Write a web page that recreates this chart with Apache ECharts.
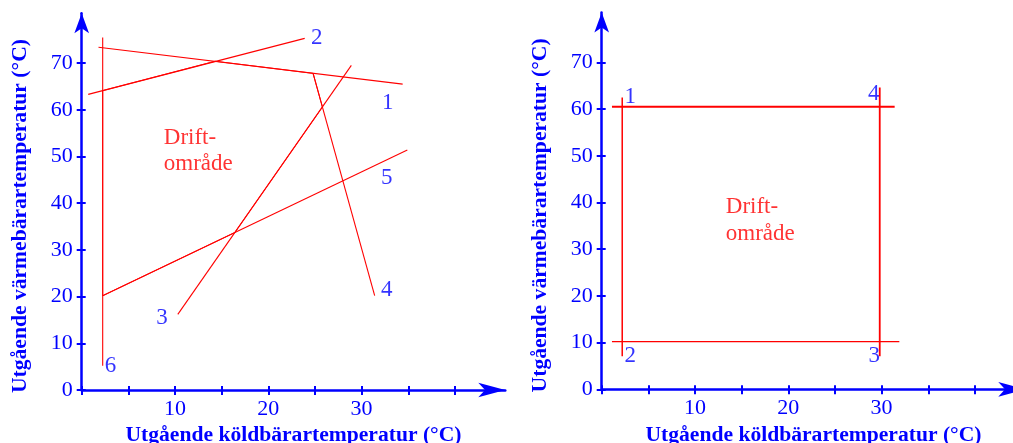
<!DOCTYPE html>
<html>
<head>
<meta charset="utf-8">
<script src="https://cdn.jsdelivr.net/npm/echarts@6/dist/echarts.min.js"></script>
<style>
  html, body { margin: 0; padding: 0; background: #fff; }
  #chart { width: 1013px; height: 443px; }
</style>
</head>
<body>
<div id="chart"></div>
<script>
// vänster diagram: gränslinjer 1-6 (x = köldbärare, y = värmebärare)
const line1 = [[1.8, 73.4], [34.4, 65.5]];
const line2 = [[0.7, 63.3], [23.9, 75.3]];
const line3 = [[10.3, 16.2], [28.9, 69.5]];
const line4 = [[24.8, 67.8], [31.4, 20.2]];
const line5 = [[2.25, 20.2], [34.9, 51.4]];
const line6 = [[2.25, 75.5], [2.25, 5.2]];
// driftområdets kant (dubbeldragen i originalet)
const region = [[2.25, 20.2], [16.4, 33.7], [25.8, 60.6], [24.8, 67.8], [14.3, 70.4], [2.25, 64.1], [2.25, 20.2]];
const leftMarkNames = ['1', '2', '3', '4', '5', '6'];
const leftMarkPos = [[32.8, 61.5], [25.2, 75.3], [8.6, 15.5], [32.7, 21.4], [32.7, 45.5], [3.1, 5.1]];

// höger diagram: rektangel
const rectLeft = [[2.2, 62.5], [2.2, 7.1]];
const rectTop = [[1.1, 60.5], [31.4, 60.5]];
const rectRight = [[29.8, 64.6], [29.8, 7.1]];
const rectBottom = [[1.1, 10.2], [31.9, 10.2]];
const rightMarkNames = ['1', '2', '3', '4'];
const rightMarkPos = [[3.07, 62.5], [3.07, 7.2], [29.2, 7.2], [29.15, 63.3]];

const driftText = 'Drift-\nområde';
const driftLeftPos = [8.8, 51.2];
const driftRightPos = [13.3, 36.1];

// axlar
const xTicks = [0, 5, 10, 15, 20, 25, 30, 35, 40];
const xLabels = [10, 20, 30];
const yTicks = [0, 10, 20, 30, 40, 50, 60, 70];
const xName = 'Utgående köldbärartemperatur (°C)';
const yName = 'Utgående värmebärartemperatur (°C)';

const BLUE = '#0000ff';
const RED = '#ff0000';
const FONT = 'Liberation Serif';

(function () {
  let myChart = echarts.init(document.getElementById('chart'));

  // pilspetsarna hamnar vid axelns slut
  const xMax = 45.4;
  const yMax = 80.7;

  function xAxisPair(grid) {
    return [
      {
        type: 'value', gridIndex: grid, position: 'bottom', min: 0, max: xMax,
        name: xName, nameLocation: 'middle', nameGap: 27,
        nameTextStyle: { color: BLUE, fontFamily: FONT, fontWeight: 'bold', fontSize: 21.6 },
        axisLine: { show: true, lineStyle: { color: BLUE, width: 2.5 }, symbol: ['none', 'arrow'], symbolSize: [11, 27] },
        axisTick: { show: true, inside: false, length: 5, lineStyle: { color: BLUE, width: 2 }, customValues: xTicks },
        axisLabel: { color: BLUE, fontFamily: FONT, fontSize: 22, margin: 8, customValues: xLabels },
        splitLine: { show: false }
      },
      {
        // inre halva av tickarna
        type: 'value', gridIndex: grid, position: 'bottom', min: 0, max: xMax,
        axisLine: { show: false },
        axisTick: { show: true, inside: true, length: 4, lineStyle: { color: BLUE, width: 2 }, customValues: xTicks },
        axisLabel: { show: false },
        splitLine: { show: false }
      }
    ];
  }

  function yAxisPair(grid) {
    return [
      {
        type: 'value', gridIndex: grid, position: 'left', min: 0, max: yMax,
        name: yName, nameLocation: 'middle', nameGap: 50, nameRotate: 90,
        nameTextStyle: {
          color: BLUE, fontFamily: FONT, fontWeight: 'bold', fontSize: 21.6,
          padding: [0, 29, 0, 0]
        },
        axisLine: { show: true, lineStyle: { color: BLUE, width: 2.5 }, symbol: ['none', 'arrow'], symbolSize: [11, 20] },
        axisTick: { show: true, inside: false, length: 5, lineStyle: { color: BLUE, width: 2 }, customValues: yTicks },
        axisLabel: { color: BLUE, fontFamily: FONT, fontSize: 22, margin: 9, customValues: yTicks },
        splitLine: { show: false }
      },
      {
        type: 'value', gridIndex: grid, position: 'left', min: 0, max: yMax,
        axisLine: { show: false },
        axisTick: { show: true, inside: true, length: 4, lineStyle: { color: BLUE, width: 2 }, customValues: yTicks },
        axisLabel: { show: false },
        splitLine: { show: false }
      }
    ];
  }

  function seg(data, xi, yi, width) {
    return {
      type: 'line', xAxisIndex: xi, yAxisIndex: yi, data: data,
      showSymbol: false, symbol: 'none', silent: true,
      lineStyle: { color: RED, width: width || 1.1 }
    };
  }

  function marks(names, pos, xi, yi, color, extra) {
    return {
      type: 'scatter', xAxisIndex: xi, yAxisIndex: yi, symbolSize: 0, silent: true,
      data: names.map((n, i) => ({ name: n, value: pos[i] })),
      label: Object.assign({
        show: true, position: 'inside', formatter: p => p.name,
        color: color, fontFamily: FONT, fontSize: 23
      }, extra || {})
    };
  }

  const driftLabel = { position: 'right', distance: 0, align: 'left', lineHeight: 26.7, fontSize: 23 };

  let option = {
    animation: false,
    grid: [
      { left: 81.7, top: 390 - yMax * 4.67, width: xMax * 9.33, height: yMax * 4.67, outerBoundsMode: 'none' },
      { left: 601.7, top: 389.3 - yMax * 4.67, width: xMax * 9.33, height: yMax * 4.67, outerBoundsMode: 'none' }
    ],
    xAxis: xAxisPair(0).concat(xAxisPair(1)),
    yAxis: yAxisPair(0).concat(yAxisPair(1)),
    series: [
      seg(line1, 0, 0), seg(line2, 0, 0), seg(line3, 0, 0),
      seg(line4, 0, 0), seg(line5, 0, 0), seg(line6, 0, 0),
      seg(region, 0, 0, 1),
      marks(leftMarkNames, leftMarkPos, 0, 0, BLUE),
      marks([driftText], [driftLeftPos], 0, 0, RED, driftLabel),

      seg(rectLeft, 2, 2, 1.5), seg(rectTop, 2, 2, 2),
      seg(rectRight, 2, 2, 1.8), seg(rectBottom, 2, 2, 1.2),
      marks(rightMarkNames, rightMarkPos, 2, 2, BLUE),
      marks([driftText], [driftRightPos], 2, 2, RED, driftLabel)
    ]
  };

  myChart.setOption(option);
})();
</script>
</body>
</html>
